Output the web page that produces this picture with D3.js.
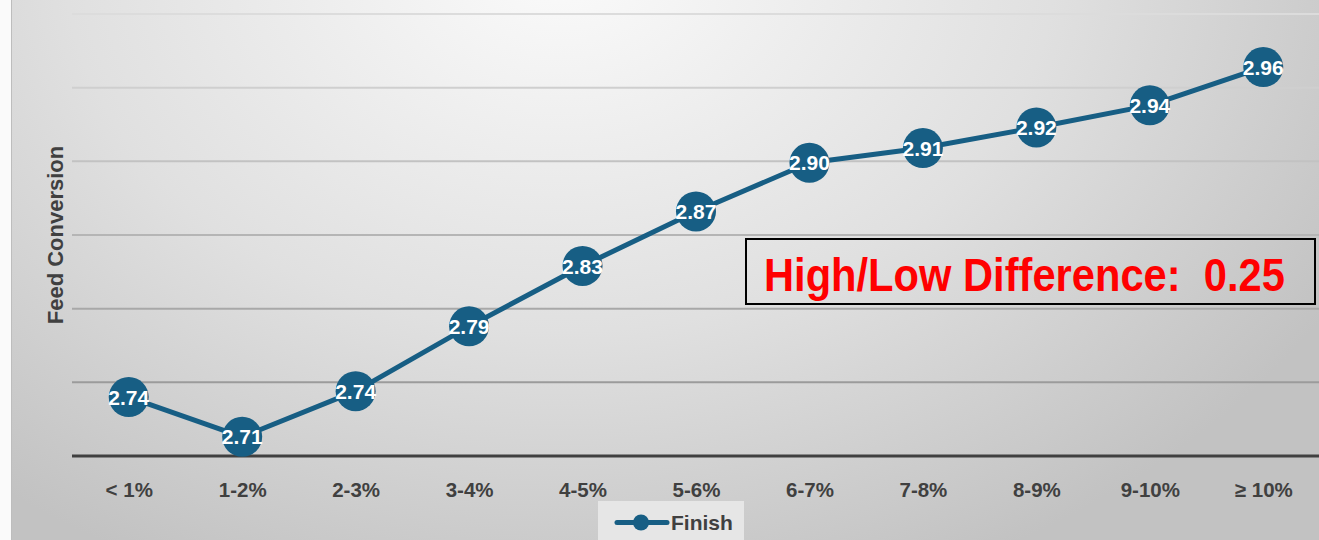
<!DOCTYPE html>
<html>
<head>
<meta charset="utf-8">
<script src="https://cdn.jsdelivr.net/npm/d3@7/dist/d3.min.js"></script>
<style>
  html, body { margin: 0; padding: 0; background: #ffffff; }
  svg { display: block; }
</style>
</head>
<body>
<svg id="chart" width="1319" height="540"></svg>
<script>
const categories = ["< 1%", "1-2%", "2-3%", "3-4%", "4-5%", "5-6%", "6-7%", "7-8%", "8-9%", "9-10%", "≥ 10%"];
const finishValues = [2.740, 2.713, 2.744, 2.788, 2.829, 2.866, 2.899, 2.909, 2.923, 2.938, 2.964];
const yTicks = [2.70, 2.75, 2.80, 2.85, 2.90, 2.95, 3.00];
const seriesName = "Finish";
const yTitle = "Feed Conversion";
const annotationText = "High/Low Difference:  0.25";

(function () {
const W = 1319, H = 540;
const svg = d3.select("#chart");
const defs = svg.append("defs");

const bg = defs.append("radialGradient")
  .attr("id", "bg").attr("gradientUnits", "userSpaceOnUse")
  .attr("cx", 560).attr("cy", -40).attr("r", 900)
  .attr("gradientTransform", "translate(560,-40) scale(1,0.75) translate(-560,40)");
bg.append("stop").attr("offset", "0%").attr("stop-color", "#fbfbfb");
bg.append("stop").attr("offset", "55%").attr("stop-color", "#e0e0e0");
bg.append("stop").attr("offset", "100%").attr("stop-color", "#c2c2c2");

svg.append("rect").attr("x", 0).attr("y", 0).attr("width", W).attr("height", H).attr("fill", "#fafafa");
svg.append("rect").attr("x", 11).attr("y", 0).attr("width", W - 11).attr("height", H).attr("fill", "url(#bg)");
svg.append("line").attr("x1", 11.5).attr("x2", 11.5).attr("y1", 0).attr("y2", H)
  .attr("stroke", "#bdbdbd").attr("stroke-width", 1);

const pLeft = 72, pRight = 1320, pTop = 14, pBottom = 456;

const x = d3.scalePoint().domain(categories).range([pLeft, pRight]).padding(0.5);
const y = d3.scaleLinear().domain([2.70, 3.00]).range([pBottom, pTop]);

const gridShade = d3.scaleLinear().domain([pTop, pBottom]).range(["#dcdcdc", "#8e8e8e"]);

svg.append("g").selectAll("line")
  .data(yTicks.filter(d => d > 2.70))
  .join("line")
  .attr("x1", pLeft).attr("x2", W)
  .attr("y1", d => y(d)).attr("y2", d => y(d))
  .attr("stroke", d => gridShade(y(d)))
  .attr("stroke-width", 2);

const xAxis = d3.axisBottom(x).tickSize(0).tickPadding(26.5);
const gx = svg.append("g").attr("transform", `translate(0,${pBottom})`).call(xAxis);
gx.select(".domain").remove();
svg.append("line").attr("x1", pLeft).attr("x2", W).attr("y1", pBottom).attr("y2", pBottom)
  .attr("stroke", "#404040").attr("stroke-width", 3);
gx.selectAll("text")
  .attr("font-family", "Liberation Sans, Arial, sans-serif")
  .attr("font-weight", "bold").attr("font-size", 20.5).attr("fill", "#404040");

svg.append("text")
  .attr("transform", `translate(63,${(pTop + pBottom) / 2}) rotate(-90)`)
  .attr("text-anchor", "middle")
  .attr("font-family", "Liberation Sans, Arial, sans-serif")
  .attr("font-weight", "bold").attr("font-size", 22).attr("fill", "#404040")
  .text(yTitle);

const color = "#175e84";
const line = d3.line().x((d, i) => x(categories[i])).y(d => y(d));
svg.append("path").datum(finishValues)
  .attr("d", line).attr("fill", "none")
  .attr("stroke", color).attr("stroke-width", 5).attr("stroke-linejoin", "round");

svg.append("g").selectAll("circle").data(finishValues).join("circle")
  .attr("cx", (d, i) => x(categories[i])).attr("cy", d => y(d))
  .attr("r", 20).attr("fill", color);

svg.append("g").selectAll("text").data(finishValues).join("text")
  .attr("x", (d, i) => x(categories[i])).attr("y", d => y(d))
  .attr("dy", "0.36em").attr("text-anchor", "middle")
  .attr("font-family", "Liberation Sans, Arial, sans-serif")
  .attr("font-weight", "bold").attr("font-size", 21).attr("fill", "#ffffff")
  .text(d => d.toFixed(2));

// annotation box
svg.append("rect").attr("x", 746).attr("y", 239).attr("width", 569).attr("height", 65)
  .attr("fill", "none").attr("stroke", "#000").attr("stroke-width", 2);
const annG = svg.append("g");
const annT = annG.append("text").attr("x", 0).attr("y", 0)
  .attr("font-family", "Liberation Sans Narrow, Liberation Sans, Arial, sans-serif")
  .attr("font-weight", "bold").attr("font-size", 46).attr("fill", "#ff0000")
  .attr("xml:space", "preserve")
  .text(annotationText);
const natural = annT.node().getComputedTextLength();
const sx = 521 / natural;
annG.attr("transform", `translate(764,291) scale(${sx},1)`);

// legend
const lg = svg.append("g");
lg.append("rect").attr("x", 598).attr("y", 501).attr("width", 146).attr("height", 39).attr("fill", "#e6e6e6");
lg.append("line").attr("x1", 617).attr("x2", 667).attr("y1", 522.5).attr("y2", 522.5)
  .attr("stroke", color).attr("stroke-width", 5).attr("stroke-linecap", "round");
lg.append("circle").attr("cx", 641).attr("cy", 522.5).attr("r", 8).attr("fill", color);
lg.append("text").attr("x", 671).attr("y", 522.5).attr("dy", "0.36em")
  .attr("font-family", "Liberation Sans, Arial, sans-serif")
  .attr("font-weight", "bold").attr("font-size", 21).attr("fill", "#404040")
  .text(seriesName);
})();
</script>
</body>
</html>
